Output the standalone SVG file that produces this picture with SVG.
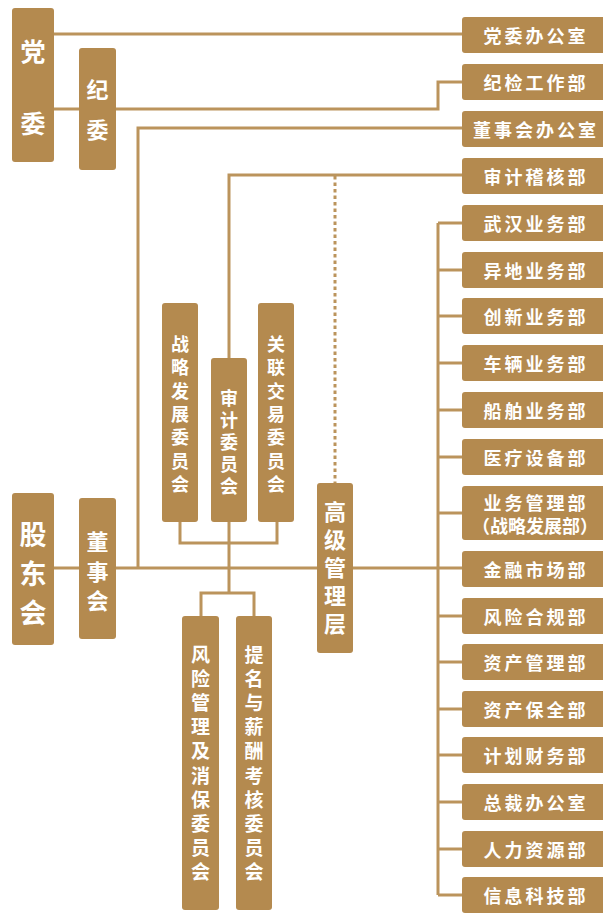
<svg xmlns="http://www.w3.org/2000/svg" width="603" height="913" viewBox="0 0 603 913">
<style>
.b{fill:#b48a4f}
.t{fill:#fff;font-family:"Noto Sans CJK SC","Noto Sans",sans-serif;font-weight:bold;text-anchor:middle;dominant-baseline:central}
.r{font-size:18px;letter-spacing:3px}
.l{fill:none;stroke:#bb945c;stroke-width:3}
.d{fill:none;stroke:#bb945c;stroke-width:3;stroke-dasharray:3.5 3}
</style>
<rect width="603" height="913" fill="#fff"/>
<g id="connectors">
<path class="l" d="M54 34H462"/>
<path class="l" d="M54 109H79M116 109H438V82H462"/>
<path class="l" d="M138 568V128H462"/>
<path class="l" d="M229 358V175H462"/>
<path class="d" d="M335 176V483"/>
<path class="l" d="M54 568H79M116 568H317M353 568H462"/>
<path class="l" d="M438 223V895"/>
<path class="l" d="M438 223H462M438 270H462M438 316H462M438 363H462M438 410H462M438 457H462M438 513H462M438 616H462M438 662H462M438 709H462M438 755H462M438 802H462M438 849H462M438 895H462"/>
<path class="l" d="M180 522V543H277V522M229 522V593M201 617V593H254V617"/>
</g>
<g id="dangwei"><rect class="b" x="12" y="8" width="42" height="154" rx="3"/><text class="t" font-size="25"><tspan x="33" y="50">党</tspan><tspan x="33" y="122">委</tspan></text></g>
<g id="jiwei"><rect class="b" x="79" y="48" width="37" height="122" rx="3"/><text class="t" font-size="22"><tspan x="97.5" y="88">纪</tspan><tspan x="97.5" y="128">委</tspan></text></g>
<g id="gudonghui"><rect class="b" x="12" y="493" width="42" height="152" rx="3"/><text class="t" font-size="27"><tspan x="33" y="533">股</tspan><tspan x="33" y="572">东</tspan><tspan x="33" y="611">会</tspan></text></g>
<g id="dongshihui"><rect class="b" x="79" y="498" width="37" height="141" rx="3"/><text class="t" font-size="22"><tspan x="97.5" y="540">董</tspan><tspan x="97.5" y="570">事</tspan><tspan x="97.5" y="599">会</tspan></text></g>
<g id="gaoji"><rect class="b" x="317" y="483" width="36" height="170" rx="3"/><text class="t" font-size="22"><tspan x="335" y="510">高</tspan><tspan x="335" y="538">级</tspan><tspan x="335" y="566">管</tspan><tspan x="335" y="594">理</tspan><tspan x="335" y="622">层</tspan></text></g>
<g id="zhanlue"><rect class="b" x="162" y="303" width="36" height="219" rx="3"/><text class="t" font-size="18"><tspan x="180" y="343">战</tspan><tspan x="180" y="366">略</tspan><tspan x="180" y="390">发</tspan><tspan x="180" y="413">展</tspan><tspan x="180" y="436">委</tspan><tspan x="180" y="460">员</tspan><tspan x="180" y="483">会</tspan></text></g>
<g id="shenji"><rect class="b" x="211" y="358" width="36" height="164" rx="3"/><text class="t" font-size="18"><tspan x="229" y="397">审</tspan><tspan x="229" y="419">计</tspan><tspan x="229" y="441">委</tspan><tspan x="229" y="463">员</tspan><tspan x="229" y="485">会</tspan></text></g>
<g id="guanlian"><rect class="b" x="258" y="303" width="36" height="219" rx="3"/><text class="t" font-size="18"><tspan x="276" y="343">关</tspan><tspan x="276" y="366">联</tspan><tspan x="276" y="390">交</tspan><tspan x="276" y="413">易</tspan><tspan x="276" y="436">委</tspan><tspan x="276" y="460">员</tspan><tspan x="276" y="483">会</tspan></text></g>
<g id="fengxian"><rect class="b" x="182" y="616" width="37" height="294" rx="3"/><text class="t" font-size="19"><tspan x="200.5" y="653">风</tspan><tspan x="200.5" y="677">险</tspan><tspan x="200.5" y="701">管</tspan><tspan x="200.5" y="725">理</tspan><tspan x="200.5" y="749">及</tspan><tspan x="200.5" y="774">消</tspan><tspan x="200.5" y="798">保</tspan><tspan x="200.5" y="822">委</tspan><tspan x="200.5" y="846">员</tspan><tspan x="200.5" y="870">会</tspan></text></g>
<g id="timing"><rect class="b" x="236" y="616" width="36" height="294" rx="3"/><text class="t" font-size="19"><tspan x="254" y="653">提</tspan><tspan x="254" y="677">名</tspan><tspan x="254" y="701">与</tspan><tspan x="254" y="725">薪</tspan><tspan x="254" y="749">酬</tspan><tspan x="254" y="774">考</tspan><tspan x="254" y="798">核</tspan><tspan x="254" y="822">委</tspan><tspan x="254" y="846">员</tspan><tspan x="254" y="870">会</tspan></text></g>
<g id="r1"><rect class="b" x="462" y="17" width="146" height="36" rx="3"/><text class="t r" x="536" y="35">党委办公室</text></g>
<g id="r2"><rect class="b" x="462" y="64" width="146" height="36" rx="3"/><text class="t r" x="536" y="82">纪检工作部</text></g>
<g id="r3"><rect class="b" x="462" y="111" width="146" height="36" rx="3"/><text class="t r" x="536" y="129">董事会办公室</text></g>
<g id="r4"><rect class="b" x="462" y="158" width="146" height="36" rx="3"/><text class="t r" x="536" y="176">审计稽核部</text></g>
<g id="r5"><rect class="b" x="462" y="205" width="146" height="36" rx="3"/><text class="t r" x="536" y="223">武汉业务部</text></g>
<g id="r6"><rect class="b" x="462" y="252" width="146" height="36" rx="3"/><text class="t r" x="536" y="270">异地业务部</text></g>
<g id="r7"><rect class="b" x="462" y="298" width="146" height="36" rx="3"/><text class="t r" x="536" y="316">创新业务部</text></g>
<g id="r8"><rect class="b" x="462" y="345" width="146" height="36" rx="3"/><text class="t r" x="536" y="363">车辆业务部</text></g>
<g id="r9"><rect class="b" x="462" y="392" width="146" height="36" rx="3"/><text class="t r" x="536" y="410">船舶业务部</text></g>
<g id="r10"><rect class="b" x="462" y="439" width="146" height="36" rx="3"/><text class="t r" x="536" y="457">医疗设备部</text></g>
<g id="r11"><rect class="b" x="462" y="486" width="146" height="54" rx="3"/><text class="t r" x="536" y="502">业务管理部</text><text class="t" font-size="18" x="535" y="525">（战略发展部）</text></g>
<g id="r12"><rect class="b" x="462" y="551" width="146" height="36" rx="3"/><text class="t r" x="536" y="569">金融市场部</text></g>
<g id="r13"><rect class="b" x="462" y="598" width="146" height="36" rx="3"/><text class="t r" x="536" y="616">风险合规部</text></g>
<g id="r14"><rect class="b" x="462" y="644" width="146" height="36" rx="3"/><text class="t r" x="536" y="662">资产管理部</text></g>
<g id="r15"><rect class="b" x="462" y="691" width="146" height="36" rx="3"/><text class="t r" x="536" y="709">资产保全部</text></g>
<g id="r16"><rect class="b" x="462" y="737" width="146" height="36" rx="3"/><text class="t r" x="536" y="755">计划财务部</text></g>
<g id="r17"><rect class="b" x="462" y="784" width="146" height="36" rx="3"/><text class="t r" x="536" y="802">总裁办公室</text></g>
<g id="r18"><rect class="b" x="462" y="831" width="146" height="36" rx="3"/><text class="t r" x="536" y="849">人力资源部</text></g>
<g id="r19"><rect class="b" x="462" y="877" width="146" height="36" rx="3"/><text class="t r" x="536" y="895">信息科技部</text></g>
</svg>
